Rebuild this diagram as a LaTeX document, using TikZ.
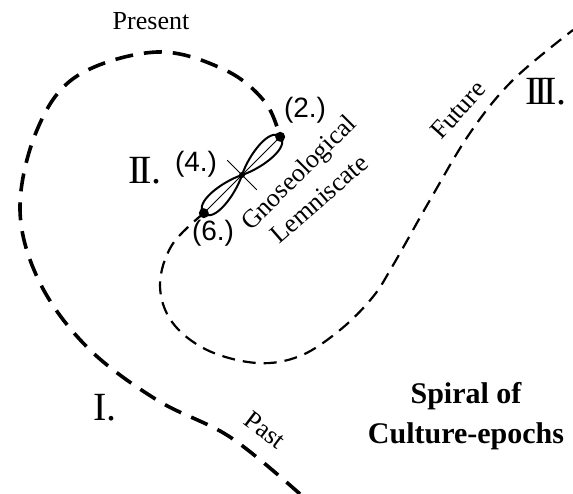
\documentclass[tikz,border=0pt]{standalone}
\usepackage{fontspec}
\setmainfont{Liberation Serif}
\newfontfamily\handfont{Liberation Sans}
\begin{document}
\begin{tikzpicture}[x=1pt,y=-1pt,
  outer/.style={line width=3.6pt, dash pattern=on 18pt off 11pt},
  inner/.style={line width=2.2pt, dash pattern=on 13pt off 8pt},
  lobe/.style={line width=2pt},
  thinln/.style={line width=0.8pt},
  blob/.style={circle, fill=black, inner sep=0pt, minimum size=10pt},
  hand/.style={font=\handfont\fontsize{28}{30}\selectfont, inner sep=0pt},
  lbl/.style={font=\fontsize{26}{28}\selectfont, inner sep=0pt},
  roman/.style={font=\fontsize{40}{40}\selectfont, inner sep=0pt},
  title/.style={font=\bfseries\fontsize{30}{40}\selectfont, align=center, inner sep=0pt}]
\useasboundingbox (0,0) rectangle (573,494);
\coordinate (c4) at (242,175);
\begin{scope}[shift={(c4)}, rotate=45]
  \coordinate (d2) at (54,0);
  \coordinate (d6) at (-54,0);
  \coordinate (xa) at (0,21);
  \coordinate (xb) at (0,-21);
  \draw[lobe] (0,0) .. controls (20,10) and (54,14) .. (54,0)
              .. controls (54,-14) and (20,-10) .. (0,0)
              .. controls (-20,10) and (-54,14) .. (-54,0)
              .. controls (-54,-14) and (-20,-10) .. (0,0);
\end{scope}
\draw[thinln] (d6) -- (d2);
\draw[thinln] (xa) -- (xb);
\node[blob] (n2) at (d2) {};
\node[blob] (n6) at (d6) {};
\node[circle, fill=black, inner sep=0pt, minimum size=6pt] (n4) at (c4) {};
% outer spiral (past -> present)
\draw[outer] plot[smooth, tension=0.6] coordinates {(300,494) (230,437) (157,400) (88,348) (40,283) (20,210) (37,130) (77,76) (157,52) (225,70) (265,102) (280,137)};
% inner spiral (lemniscate -> future)
\draw[inner] plot[smooth, tension=0.6] coordinates {(204,213) (172,245) (160,285) (172,322) (207,350) (257,363) (300,356) (340,330) (372,298) (392,267) (430,200) (470,133) (513,80) (573,30)};
% labels
\node[lbl] (present) at (151,21) {Present};
\node[hand] (l2) at (305,110) {(2.)};
\node[hand] (l4) at (196,164) {(4.)};
\node[hand] (l6) at (213,233) {(6.)};
\node[roman] (r2) at (145,171) {I\kern-0.1em I.};
\node[roman] (r3) at (546,92) {I\kern-0.1em I\kern-0.1em I.};
\node[roman] (r1) at (105,408) {I.};
\node[lbl, rotate=45] (gno) at (300,174) {Gnoseological};
\node[lbl, rotate=41] (lem) at (319,199) {Lemniscate};
\node[lbl, rotate=48] (fut) at (458,110) {Future};
\node[lbl, rotate=-37] (past) at (265,430) {Past};
\node[title] (spiral) at (466,416) {Spiral of\\Culture-epochs};
\end{tikzpicture}
\end{document}
